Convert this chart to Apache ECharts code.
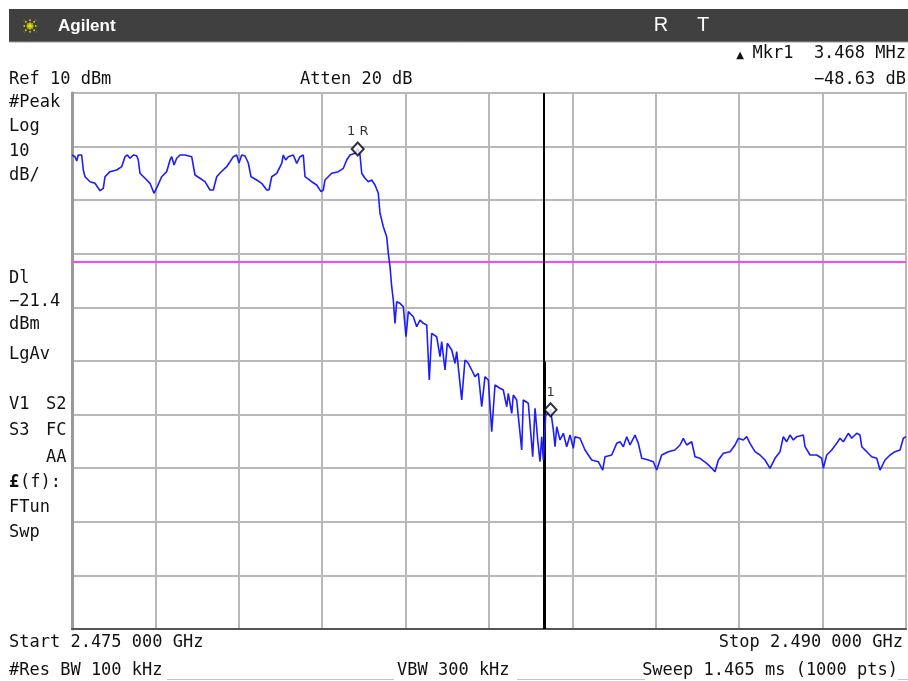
<!DOCTYPE html>
<html>
<head>
<meta charset="utf-8">
<script src="https://cdn.jsdelivr.net/npm/echarts@6/dist/echarts.min.js"></script>
<style>html,body{margin:0;padding:0;background:#fff;}#c{width:908px;height:681px;}</style>
</head>
<body>
<div id="c"></div>
<script>
// Frequency offset from start (MHz), span 2.475 - 2.490 GHz
const freqOffsetMHz = [
  0,0.054,0.085,0.113,0.174,0.203,0.234,0.324,0.414,0.504,
  0.563,0.594,0.683,0.804,0.894,0.953,0.995,1.043,1.103,1.164,
  1.192,1.223,1.313,1.403,1.475,1.534,1.613,1.703,1.763,1.793,
  1.835,1.883,1.943,2.032,2.153,2.212,2.302,2.392,2.482,2.541,
  2.603,2.662,2.782,2.842,2.901,2.962,3.004,3.052,3.112,3.142,
  3.171,3.220,3.322,3.412,3.502,3.543,3.592,3.682,3.772,3.800,
  3.844,3.890,3.980,4.042,4.101,4.160,4.191,4.311,4.401,4.479,
  4.520,4.550,4.671,4.790,4.880,4.941,5.000,5.090,5.139,5.180,
  5.211,5.270,5.330,5.390,5.450,5.509,5.540,5.599,5.660,5.689,
  5.720,5.750,5.779,5.809,5.840,5.899,5.959,6.007,6.049,6.139,
  6.200,6.259,6.319,6.380,6.426,6.469,6.559,6.619,6.649,6.709,
  6.750,6.829,6.889,6.919,7.009,7.068,7.128,7.189,7.248,7.308,
  7.369,7.428,7.488,7.549,7.608,7.698,7.757,7.819,7.847,7.909,
  7.937,7.998,8.088,8.117,8.207,8.286,8.328,8.376,8.417,8.448,
  8.477,8.520,8.567,8.607,8.657,8.688,8.718,8.777,8.837,8.898,
  8.957,9.016,9.047,9.137,9.227,9.347,9.466,9.545,9.587,9.707,
  9.797,9.856,9.916,9.977,10.036,10.126,10.186,10.247,10.365,10.455,
  10.516,10.606,10.725,10.845,10.935,10.995,11.056,11.146,11.205,11.295,
  11.416,11.506,11.565,11.625,11.715,11.835,11.925,11.984,12.074,12.135,
  12.194,12.284,12.374,12.464,12.554,12.644,12.734,12.793,12.854,12.914,
  12.973,13.034,13.153,13.184,13.274,13.394,13.484,13.513,13.574,13.664,
  13.754,13.813,13.873,13.963,14.024,14.114,14.173,14.204,14.294,14.383,
  14.474,14.533,14.623,14.713,14.803,14.893,14.952,15.0
];
// Trace level (dBm)
const levelDbm = [
  -1.57,-1.88,-2.69,-1.57,-1.57,-4.37,-5.62,-6.55,-6.85,-8.23,
  -7.78,-5.62,-4.68,-4.37,-3.75,-1.88,-1.57,-2.18,-1.57,-1.70,
  -2.50,-4.98,-5.91,-6.85,-8.71,-7.48,-5.62,-4.68,-2.50,-1.88,
  -3.43,-2.18,-1.57,-1.57,-1.88,-5.30,-5.91,-6.55,-8.10,-8.10,
  -5.62,-4.93,-3.75,-2.82,-1.88,-1.57,-3.06,-1.57,-1.75,-1.57,
  -3.06,-5.62,-6.23,-6.85,-8.10,-8.10,-5.62,-4.98,-3.12,-1.57,
  -2.50,-1.88,-1.57,-3.12,-1.88,-1.57,-5.62,-6.55,-7.16,-8.41,
  -8.10,-6.23,-4.98,-4.68,-4.05,-2.50,-1.57,-1.25,-0.45,-1.57,
  -4.98,-5.91,-6.55,-6.23,-7.16,-8.71,-12.44,-14.94,-16.81,-19.91,
  -22.41,-26.14,-28.62,-32.97,-28.94,-29.24,-29.87,-35.47,-30.80,-31.74,
  -33.60,-32.35,-32.97,-33.28,-43.54,-34.83,-35.47,-39.20,-36.40,-41.68,
  -36.70,-37.95,-40.43,-38.26,-47.28,-39.81,-40.43,-41.68,-42.93,-42.29,
  -48.53,-42.93,-43.54,-53.19,-44.48,-45.09,-45.41,-48.53,-46.03,-49.76,
  -46.34,-47.28,-56.60,-47.28,-47.89,-57.86,-48.82,-54.74,-58.79,-54.12,
  -58.47,-50.07,-49.76,-49.08,-52.87,-55.99,-52.26,-54.74,-53.49,-55.99,
  -53.81,-56.29,-54.12,-54.42,-56.60,-58.47,-58.79,-60.34,-57.86,-57.54,
  -55.36,-55.06,-55.99,-54.12,-55.67,-53.81,-55.36,-58.15,-58.47,-58.79,
  -60.34,-57.54,-56.92,-56.60,-55.67,-54.42,-55.67,-55.06,-57.86,-58.15,
  -59.09,-60.02,-60.65,-58.47,-57.22,-56.92,-55.67,-54.42,-54.74,-54.12,
  -55.36,-56.92,-57.54,-58.47,-60.02,-58.15,-56.92,-54.12,-55.06,-53.81,
  -54.74,-54.12,-53.81,-55.99,-57.54,-57.54,-58.15,-60.02,-57.54,-56.60,
  -55.36,-54.42,-55.06,-53.49,-54.42,-53.49,-53.81,-55.99,-56.92,-57.86,
  -58.15,-60.34,-58.47,-57.54,-56.92,-56.60,-54.42,-54.12
];
// Axis settings
const spanMHz = 15, freqDivMHz = 1.5;
const refLevel = 10, bottomLevel = -90, dbPerDiv = 10;
// Display line
const displayLineDbm = -21.4;
// Markers
const markerRef = [5.139, -0.45];
const marker1 = [8.607, -49.08];
// Vertical cursor
const cursorFreq = 8.49;
const cursorHeavyTop = -40.1;

// Annotation texts
const titleText = 'Agilent';
const statusR = 'R', statusT = 'T';
const topLeftText = 'Ref 10 dBm';
const attenText = 'Atten 20 dB';
const mkrText = 'Mkr1  3.468 MHz';
const mkrValText = '\u221248.63 dB';
const leftTexts = [['#Peak',103],['Log',127],['10',152],['dB/',176],['Dl',279],['\u221221.4',302],['dBm',325],['LgAv',355],['V1',405],['S3',431],['FTun',508],['Swp',533]];
const leftTexts2 = [['S2',405],['FC',431],['AA',458]];
const startText = 'Start 2.475 000 GHz';
const stopText = 'Stop 2.490 000 GHz';
const rbwText = '#Res BW 100 kHz';
const vbwText = 'VBW 300 kHz';
const sweepText = 'Sweep 1.465 ms (1000 pts)';

const trace = freqOffsetMHz.map((f, i) => [f, levelDbm[i]]);
const MONO = '"DejaVu Sans Mono", "Liberation Mono", monospace';
function txt(text, x, y, align, extra) {
  return Object.assign({
    type: 'text', z: 100,
    style: { text: text, x: x, y: y, fill: '#111', font: '17px ' + MONO,
             textAlign: align || 'left', textVerticalAlign: 'middle' }
  }, extra || {});
}

const graphics = [
  { type: 'rect', shape: { x: 9, y: 9, width: 899, height: 33 }, style: { fill: '#404040' } },
  { type: 'line', shape: { x1: 9, y1: 42, x2: 908, y2: 42 }, style: { stroke: '#9a9a9a', lineWidth: 1 } },
  { type: 'text', z: 100, style: { text: titleText, x: 58, y: 26, fill: '#fff', font: 'bold 17px "Liberation Sans", Arial, sans-serif', textVerticalAlign: 'middle' } },
  { type: 'text', z: 100, style: { text: statusR, x: 661, y: 25, fill: '#fff', font: '20px "Liberation Sans", Arial, sans-serif', textAlign: 'center', textVerticalAlign: 'middle' } },
  { type: 'text', z: 100, style: { text: statusT, x: 703, y: 25, fill: '#fff', font: '20px "Liberation Sans", Arial, sans-serif', textAlign: 'center', textVerticalAlign: 'middle' } },
  txt(topLeftText, 9, 80),
  txt(attenText, 300, 80),
  txt(mkrText, 906, 54, 'right'),
  { type: 'text', z: 100, style: { text: '\u25B2', x: 740, y: 55, fill: '#111', font: '10px "DejaVu Sans", sans-serif', textAlign: 'center', textVerticalAlign: 'middle' } },
  txt(mkrValText, 906, 80, 'right'),
  txt(startText, 9, 643),
  txt(stopText, 903, 643, 'right'),
  txt(rbwText, 9, 671),
  txt(vbwText, 397, 671),
  txt(sweepText, 898, 671, 'right'),
  { type: 'text', z: 100, style: { text: '\u00A3', x: 9, y: 483, fill: '#111', font: 'bold 17px ' + MONO, textVerticalAlign: 'middle' } },
  txt('(f):', 20, 483),
  { type: 'line', shape: { x1: 167, y1: 679.5, x2: 394, y2: 679.5 }, style: { stroke: '#c8b8f0', lineWidth: 1 } },
  { type: 'line', shape: { x1: 517, y1: 679.5, x2: 645, y2: 679.5 }, style: { stroke: '#c8b8f0', lineWidth: 1 } },
  { type: 'line', shape: { x1: 898, y1: 679.5, x2: 908, y2: 679.5 }, style: { stroke: '#c8b8f0', lineWidth: 1 } }
];
leftTexts.forEach(t => graphics.push(txt(t[0], 9, t[1])));
leftTexts2.forEach(t => graphics.push(txt(t[0], 46, t[1])));
// logo starburst
const cx = 30, cy = 26;
[[0,-8],[0,8],[-8,0],[8,0],[-6,-6],[6,6],[-6,6],[6,-6]].forEach(d => {
  graphics.push({ type: 'line', shape: { x1: cx + d[0]*0.25, y1: cy + d[1]*0.25, x2: cx + d[0], y2: cy + d[1] },
    style: { stroke: '#e6e600', lineWidth: 1.5, lineDash: [1.5, 1.5] } });
});
graphics.push({ type: 'circle', shape: { cx: cx, cy: cy, r: 2 }, style: { fill: '#e6e600' } });

const chart = echarts.init(document.getElementById('c'), null, { renderer: 'canvas' });
chart.setOption({
  animation: false,
  backgroundColor: '#ffffff',
  grid: { left: 72, top: 93, width: 834, height: 536, show: true, borderColor: '#a8a8a8', borderWidth: 2 },
  xAxis: {
    type: 'value', min: 0, max: spanMHz, interval: freqDivMHz,
    axisLine: { show: true, onZero: false, lineStyle: { color: '#555', width: 2 } },
    axisTick: { show: false }, axisLabel: { show: false },
    splitLine: { show: true, lineStyle: { color: '#b8b8b8', width: 2 } }
  },
  yAxis: {
    type: 'value', min: bottomLevel, max: refLevel, interval: dbPerDiv,
    axisLine: { show: true, onZero: false, lineStyle: { color: '#999', width: 3 } },
    axisTick: { show: false }, axisLabel: { show: false },
    splitLine: { show: true, lineStyle: { color: '#b8b8b8', width: 2 } }
  },
  graphic: graphics,
  series: [
    {
      type: 'line', data: trace, showSymbol: false, z: 5,
      lineStyle: { color: '#1c1cff', width: 1.6 },
      markLine: {
        silent: true, symbol: 'none', label: { show: false },
        data: [
          [{ coord: [0, displayLineDbm], lineStyle: { color: '#ff44ff', width: 2, type: 'solid' } }, { coord: [spanMHz, displayLineDbm] }],
          [{ coord: [cursorFreq, refLevel], lineStyle: { color: '#000', width: 2, type: 'solid' } }, { coord: [cursorFreq, bottomLevel] }],
          [{ coord: [cursorFreq, cursorHeavyTop], lineStyle: { color: '#000', width: 3, type: 'solid' } }, { coord: [cursorFreq, bottomLevel] }]
        ]
      }
    },
    {
      type: 'scatter', z: 10, symbol: 'diamond', symbolSize: [12, 13],
      itemStyle: { color: '#fff', borderColor: '#000', borderWidth: 2 },
      label: { show: true, position: 'top', distance: 3, color: '#000', fontSize: 13, fontFamily: '"DejaVu Sans", sans-serif',
        formatter: p => p.dataIndex === 0 ? '1 R' : '1' },
      data: [markerRef, marker1]
    }
  ]
});
</script>
</body>
</html>
